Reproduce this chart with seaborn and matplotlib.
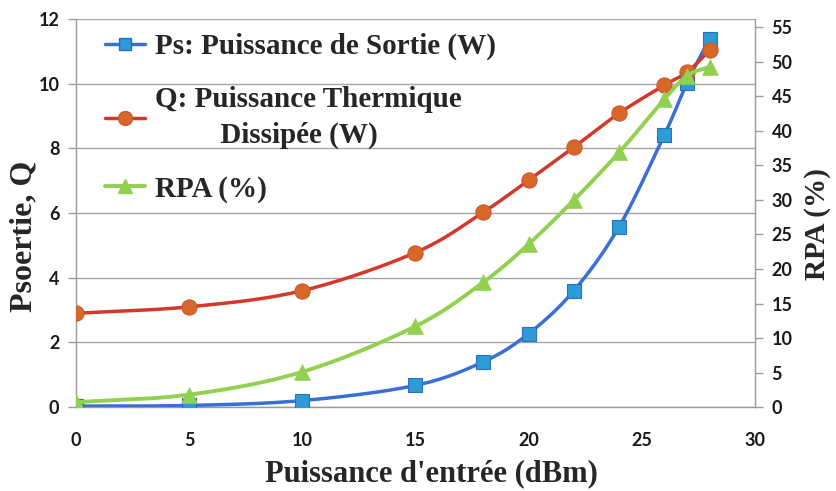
import numpy as np
import pandas as pd
import matplotlib
matplotlib.use("Agg")
import matplotlib.pyplot as plt
from matplotlib.lines import Line2D
import seaborn as sns

# values
p_in = [0, 5, 10, 15, 18, 20, 22, 24, 26, 27, 28]
ps_out = [0.03, 0.05, 0.2, 0.67, 1.4, 2.27, 3.6, 5.58, 8.42, 10.03, 11.4]
q_heat = [2.9, 3.1, 3.6, 4.78, 6.03, 7.02, 8.04, 9.09, 9.96, 10.36, 11.04]
rpa = [0.7, 1.8, 5.1, 11.7, 18.1, 23.6, 30.0, 36.9, 44.6, 48.0, 49.3]

lbl_ps = "Ps: Puissance de Sortie (W)"
lbl_q = "Q: Puissance Thermique\n         Dissipée (W)"
lbl_rpa = "RPA (%)"


def smooth(x, y, n=20):
    # Catmull-Rom curve through the points (like Excel's smoothed line)
    x = np.asarray(x, float)
    y = np.asarray(y, float)
    px = np.concatenate([[2 * x[0] - x[1]], x, [2 * x[-1] - x[-2]]])
    py = np.concatenate([[2 * y[0] - y[1]], y, [2 * y[-1] - y[-2]]])
    xs, ys = [], []
    t = np.linspace(0, 1, n)
    for i in range(1, len(px) - 2):
        for arr, out in ((px, xs), (py, ys)):
            p0, p1, p2, p3 = arr[i - 1], arr[i], arr[i + 1], arr[i + 2]
            out.extend(0.5 * ((2 * p1) + (-p0 + p2) * t
                              + (2 * p0 - 5 * p1 + 4 * p2 - p3) * t ** 2
                              + (-p0 + 3 * p1 - 3 * p2 + p3) * t ** 3))
    return pd.DataFrame({"x": xs, "y": ys})


sns.set_theme(style="white")
plt.rcParams["font.family"] = ["Lato", "DejaVu Sans"]

fig = plt.figure(figsize=(8.36, 4.91), dpi=100)
ax = fig.add_axes([0.091, 0.171, 0.812, 0.790])
ax2 = ax.twinx()

blue_line, blue_mk = "#3a6fd6", "#2e9ad6"
red_line, red_mk = "#d4382c", "#d8672c"
green = "#92d050"

df = pd.DataFrame({"p_in": p_in, "ps": ps_out, "q": q_heat, "rpa": rpa})

sns.lineplot(data=smooth(p_in, ps_out), x="x", y="y", ax=ax, color=blue_line,
             lw=2.5, sort=False, zorder=3)
sns.scatterplot(data=df, x="p_in", y="ps", ax=ax, marker="s", s=90,
                color=blue_mk, edgecolor="#2a6fc0", linewidth=0.8, zorder=4)
sns.lineplot(data=smooth(p_in, q_heat), x="x", y="y", ax=ax, color=red_line,
             lw=2.5, sort=False, zorder=3)
sns.scatterplot(data=df, x="p_in", y="q", ax=ax, marker="o", s=120,
                color=red_mk, edgecolor="#c85a28", linewidth=0.8, zorder=4)
sns.lineplot(data=smooth(p_in, rpa), x="x", y="y", ax=ax2, color=green,
             lw=2.8, sort=False, zorder=3)
sns.scatterplot(data=df, x="p_in", y="rpa", ax=ax2, marker="^", s=130,
                color=green, edgecolor=green, linewidth=0.5, zorder=4)

ax.set_xlim(0, 30)
ax.set_ylim(0, 12)
ax2.set_ylim(0, 56.2)
ax.set_xticks(range(0, 31, 5))
ax.set_yticks(range(0, 13, 2))
ax2.set_yticks(range(0, 56, 5))

ax.grid(axis="y", color="#a6a6a6", lw=1.0)
ax.set_axisbelow(True)
for a in (ax, ax2):
    for side, sp in a.spines.items():
        sp.set_color("#9a9a9a")
        sp.set_linewidth(1.0)
    a.spines["top"].set_visible(False)
ax.spines["right"].set_visible(False)
ax2.spines["left"].set_visible(False)
ax2.spines["bottom"].set_visible(False)

ax.tick_params(axis="both", which="major", direction="out", length=6,
               width=1, color="#9a9a9a", pad=6)
ax.tick_params(axis="x", pad=12)
ax2.tick_params(axis="y", direction="out", length=6, width=1,
                color="#9a9a9a", pad=6)
for lab in ax.get_xticklabels() + ax.get_yticklabels() + ax2.get_yticklabels():
    lab.set_fontsize(13)
    lab.set_fontweight("bold")
    lab.set_color("#1a1a1a")

serif = ["Liberation Serif", "DejaVu Serif"]
ax.set_xlabel("Puissance d'entrée (dBm)", fontsize=22, fontweight="bold",
              family=serif)
ax.set_ylabel("Psoertie, Q", fontsize=23, fontweight="bold", family=serif)
ax2.set_ylabel("RPA (%)", fontsize=21, fontweight="bold", family=serif)
ax.xaxis.set_label_coords(0.523, -0.135)
ax.yaxis.set_label_coords(-0.056, 0.44)
ax2.yaxis.set_label_coords(1.072, 0.472)

handles = [
    Line2D([], [], color=blue_line, lw=2.5, marker="s", markersize=8,
           markerfacecolor=blue_mk, markeredgecolor="#2a6fc0"),
    Line2D([], [], color=red_line, lw=2.5, marker="o", markersize=10,
           markerfacecolor=red_mk, markeredgecolor="#c85a28"),
    Line2D([], [], color=green, lw=2.8, marker="^", markersize=10,
           markerfacecolor=green, markeredgecolor=green),
]
leg = ax.legend(handles, [lbl_ps, lbl_q, lbl_rpa], loc="upper left",
                bbox_to_anchor=(0.043, 0.965), frameon=False,
                handlelength=1.35, handletextpad=0.35, borderpad=0,
                borderaxespad=0, labelspacing=0.9,
                prop=dict(family=serif, size=21, weight="bold"))
for txt in leg.get_texts():
    txt.set_linespacing(1.4)
ax2.set_zorder(ax.get_zorder() + 1)
ax.patch.set_visible(True)
ax2.patch.set_visible(False)

fig.savefig("out.png", dpi=100)
